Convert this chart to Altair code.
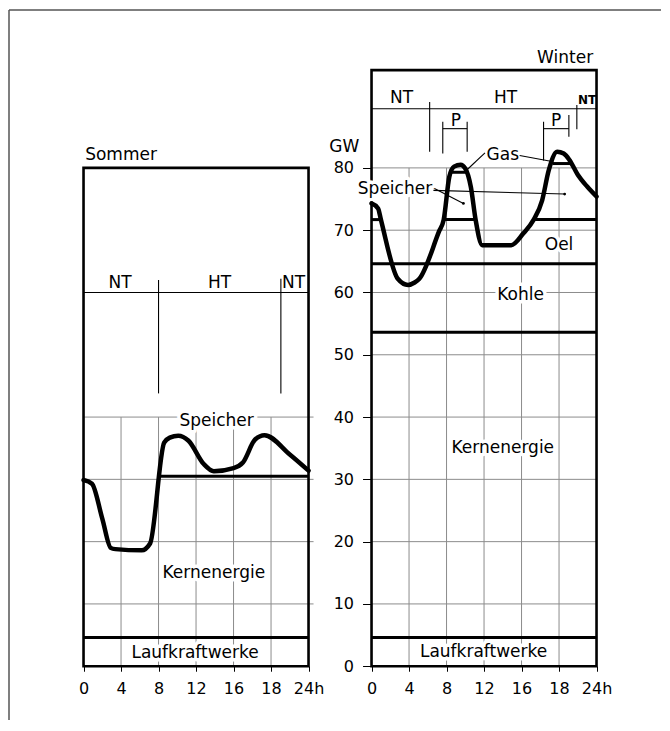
import altair as alt
import pandas as pd

# ---------------- data ----------------
# load curves (hour of day -> GW)
sommer_h = [0, 0.9, 2.0, 2.9, 3.4, 6.2, 7.1, 8.6, 9.2, 10.1, 11.2, 12.8, 13.9, 16.0, 17.0, 18.3, 19.3, 22.0, 24]
sommer_gw = [29.9, 29.3, 23.7, 19.0, 18.8, 18.6, 19.7, 35.9, 36.7, 37.0, 36.2, 32.5, 31.3, 31.8, 32.7, 36.4, 37.1, 34.0, 31.4]

winter_h = [0, 0.7, 1.0, 2.8, 3.9, 4.6, 5.1, 7.2, 7.7, 8.3, 8.8, 9.5, 10.0, 10.6, 11.1, 11.8,
            14.9, 16.2, 17.3, 18.2, 18.9, 19.8, 20.5, 21.1, 22.0, 23.0, 24]
winter_gw = [74.3, 73.5, 71.7, 62.2, 61.2, 61.6, 62.2, 69.8, 71.7, 78.6, 80.2, 80.5, 79.9, 76.9, 71.7, 67.6,
             67.6, 69.5, 71.7, 74.8, 79.6, 82.6, 82.3, 81.3, 78.9, 77.0, 75.4]

# layer boundaries (thick horizontal lines): panel, GW level, from hour, to hour
level_panel = ["S", "S", "W", "W", "W", "W", "W", "W", "W", "W"]
level_gw = [4.6, 30.5, 4.6, 53.6, 64.6, 71.7, 71.7, 71.7, 79.3, 80.7]
level_from = [0, 8.2, 0, 0, 0, 0, 7.7, 17.3, 8.5, 19.3]
level_to = [24, 24, 24, 24, 24, 1.0, 11.1, 24, 10.1, 21.3]

# thin annotation lines (NT/HT limits, P brackets, leaders): panel, h1, gw1, h2, gw2
ann_panel = ["S", "S", "S",
             "W", "W", "W",
             "W", "W", "W",
             "W", "W", "W",
             "W", "W", "W", "W"]
ann_h1 = [0, 8, 21.05, 0, 6.2, 21.9, 7.6, 10.2, 7.6, 18.35, 21.05, 18.35, 12.1, 15.8, 6.3, 6.6]
ann_gw1 = [60, 43.8, 43.8, 89.5, 82.6, 86.2, 82.3, 82.6, 86.3, 81.2, 85.0, 86.3, 82.4, 82.0, 77.0, 76.4]
ann_h2 = [24, 8, 21.05, 24, 6.2, 21.9, 7.6, 10.2, 10.2, 18.35, 21.05, 21.05, 9.9, 19.4, 9.8, 20.6]
ann_gw2 = [60, 62.0, 62.2, 89.5, 90.6, 90.1, 87.4, 87.4, 86.3, 87.4, 88.5, 86.3, 79.3, 81.0, 74.3, 75.8]

# leader end dots
dot_panel = ["W", "W"]
dot_h = [9.8, 20.6]
dot_gw = [74.3, 75.8]

# panel frames: panel, top GW
panel_names = ["S", "W"]
panel_top = [80, 95.7]

# grid lines per panel
grid_h_sommer = [10, 20, 30, 40]
grid_v_sommer = [4, 8, 12, 16, 20]
grid_h_winter = [10, 20, 30, 40, 50, 60, 70, 80]
grid_v_winter = [4, 8, 12, 16, 20]

# labels
lab_text = ["Sommer", "NT", "HT", "NT", "Speicher", "Kernenergie", "Laufkraftwerke",
            "Winter", "NT", "HT", "P", "P", "Gas", "Speicher", "Oel", "Kohle",
            "Kernenergie", "Laufkraftwerke", "GW"]
lab_panel = ["S"] * 7 + ["W"] * 12
lab_h = [4.0, 3.9, 14.5, 22.4, 14.2, 13.9, 11.9,
         20.65, 3.2, 14.3, 9.0, 19.7, 14.0, 2.5, 20.0, 15.9, 14.0, 11.95, -2.9]
lab_gw = [82.0, 61.5, 61.5, 61.5, 39.3, 14.9, 2.1,
          97.7, 91.2, 91.2, 87.6, 87.6, 82.0, 76.6, 67.6, 59.6, 35.0, 2.3, 83.3]
lab_halo = [False, False, False, False, True, True, True,
            False, False, False, False, False, False, True, True, True, True, True, False]

small_text = ["NT"]
small_panel = ["W"]
small_h = [23.0]
small_gw = [90.9]

tick_hours = [0, 4, 8, 12, 16, 20, 24]
tick_labels = ["0", "4", "8", "12", "16", "18", "24h"]
y_ticks = [0, 10, 20, 30, 40, 50, 60, 70, 80]

# ---------------- layout ----------------
PX_H = 9.375       # pixels per hour
PX_GW = 6.229      # pixels per GW
W, H = 652, 710
OFFSET_W = 30.72   # winter panel shift (hours) on the shared x scale
X_MIN = -7.95
X_DOMAIN = [X_MIN, X_MIN + W / PX_H]
Y_MAX = 105.35
Y_DOMAIN = [Y_MAX - H / PX_GW, Y_MAX]
FONT = "DejaVu Sans"

def shift(panel, h):
    return h + (OFFSET_W if panel == "W" else 0)

# ---------------- tables ----------------
curve_rows = []
for i, (h, g) in enumerate(zip(sommer_h, sommer_gw)):
    curve_rows.append({"panel": "S", "i": i, "x": shift("S", h), "y": g})
for i, (h, g) in enumerate(zip(winter_h, winter_gw)):
    curve_rows.append({"panel": "W", "i": i, "x": shift("W", h), "y": g})
curves = pd.DataFrame(curve_rows)

levels = pd.DataFrame({
    "x": [shift(p, a) for p, a in zip(level_panel, level_from)],
    "x2": [shift(p, b) for p, b in zip(level_panel, level_to)],
    "y": level_gw,
})

ann = pd.DataFrame({
    "x": [shift(p, a) for p, a in zip(ann_panel, ann_h1)],
    "y": ann_gw1,
    "x2": [shift(p, a) for p, a in zip(ann_panel, ann_h2)],
    "y2": ann_gw2,
})

dots = pd.DataFrame({"x": [shift(p, a) for p, a in zip(dot_panel, dot_h)], "y": dot_gw})

panels = pd.DataFrame({
    "x": [shift(p, 0) for p in panel_names],
    "x2": [shift(p, 24) for p in panel_names],
    "y": [0, 0],
    "y2": panel_top,
})

grid_rows = []
for g in grid_h_sommer:
    grid_rows.append({"x": shift("S", 0), "x2": shift("S", 24) + 5 / PX_H, "y": g, "y2": g})
for v in grid_v_sommer:
    grid_rows.append({"x": shift("S", v), "x2": shift("S", v), "y": 0, "y2": 40})
for g in grid_h_winter:
    grid_rows.append({"x": shift("W", 0), "x2": shift("W", 24), "y": g, "y2": g})
for v in grid_v_winter:
    grid_rows.append({"x": shift("W", v), "x2": shift("W", v), "y": 0, "y2": 80})
grid = pd.DataFrame(grid_rows)

frame = pd.DataFrame({
    "x": [X_DOMAIN[0], X_DOMAIN[0]],
    "x2": [X_DOMAIN[1], X_DOMAIN[0]],
    "y": [Y_DOMAIN[1], Y_DOMAIN[0]],
    "y2": [Y_DOMAIN[1], Y_DOMAIN[1]],
})

labels = pd.DataFrame({
    "text": lab_text,
    "x": [shift(p, a) for p, a in zip(lab_panel, lab_h)],
    "y": lab_gw,
    "halo": lab_halo,
})
small = pd.DataFrame({
    "text": small_text,
    "x": [shift(p, a) for p, a in zip(small_panel, small_h)],
    "y": small_gw,
})

# ---------------- encodings ----------------
xs = alt.Scale(domain=X_DOMAIN, nice=False, zero=False)
ys = alt.Scale(domain=Y_DOMAIN, nice=False, zero=False)

label_js = "[" + ",".join(f"'{t}'" for t in tick_labels) + "]"
x_values = tick_hours + [OFFSET_W + t for t in tick_hours]
x_axis = alt.Axis(
    orient="bottom", values=x_values, domain=False, grid=False, title=None,
    offset=-(0 - Y_DOMAIN[0]) * PX_GW, tickSize=5, tickColor="black", tickWidth=1,
    labelExpr=f"{label_js}[round((datum.value > 27 ? datum.value - {OFFSET_W} : datum.value) / 4)]",
    labelFont=FONT, labelFontSize=16, labelColor="black", labelPadding=9,
)
y_axis = alt.Axis(
    orient="left", values=y_ticks, domain=False, grid=False, title=None,
    offset=-(OFFSET_W - X_DOMAIN[0]) * PX_H, tickSize=9, tickColor="black", tickWidth=1,
    labelFont=FONT, labelFontSize=16, labelColor="black", labelPadding=9,
)

def X(field="x"):
    return alt.X(f"{field}:Q", scale=xs, axis=x_axis)

def Y(field="y"):
    return alt.Y(f"{field}:Q", scale=ys, axis=y_axis)

grid_layer = alt.Chart(grid).mark_rule(color="#8c8c8c", strokeWidth=1).encode(
    x=X(), y=Y(), x2="x2:Q", y2="y2:Q")

frame_layer = alt.Chart(frame).mark_rule(color="#555555", strokeWidth=1.5).encode(
    x=X(), y=Y(), x2="x2:Q", y2="y2:Q")

panel_layer = alt.Chart(panels).mark_rect(fillOpacity=0, stroke="black", strokeWidth=2.6).encode(
    x=X(), x2="x2:Q", y=Y(), y2="y2:Q")

ann_layer = alt.Chart(ann).mark_rule(color="black", strokeWidth=1.1).encode(
    x=X(), y=Y(), x2="x2:Q", y2="y2:Q")

halo_layer = alt.Chart(labels).transform_filter("datum.halo").mark_text(
    font=FONT, fontSize=17, color="white", stroke="white", strokeWidth=7, strokeJoin="round"
).encode(x=X(), y=Y(), text="text:N")

text_layer = alt.Chart(labels).mark_text(font=FONT, fontSize=17, color="black").encode(
    x=X(), y=Y(), text="text:N")

small_layer = alt.Chart(small).mark_text(font=FONT, fontSize=12, fontWeight="bold", color="black").encode(
    x=X(), y=Y(), text="text:N")

level_layer = alt.Chart(levels).mark_rule(color="black", strokeWidth=3).encode(
    x=X(), x2="x2:Q", y=Y())

curve_layer = alt.Chart(curves).mark_line(
    color="black", strokeWidth=4.5, interpolate="monotone", strokeJoin="round", strokeCap="round"
).encode(x=X(), y=Y(), detail="panel:N", order="i:Q")

dot_layer = alt.Chart(dots).mark_circle(color="black", size=8, opacity=1).encode(x=X(), y=Y())

chart = alt.layer(
    grid_layer, frame_layer, panel_layer, ann_layer, halo_layer, text_layer, small_layer,
    level_layer, curve_layer, dot_layer,
).properties(
    width=W, height=H,
    padding={"left": 0, "top": 1, "right": 0, "bottom": 0},
    background="white",
).configure_view(strokeWidth=0)

chart.save("out.html", embed_options={"renderer": "svg", "actions": False})
